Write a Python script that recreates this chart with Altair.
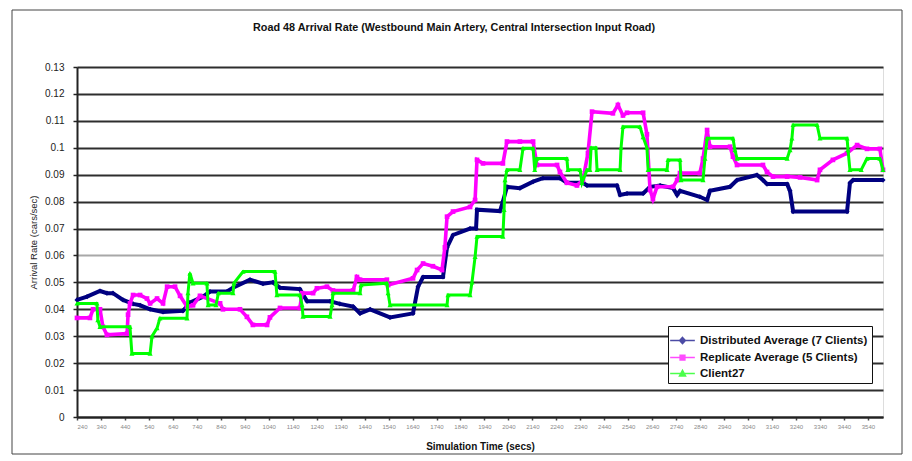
import altair as alt
import pandas as pd

# ---------------- data ----------------
series_names = ["Distributed Average (7 Clients)", "Replicate Average (5 Clients)", "Client27"]
chart_title = "Road 48 Arrival Rate  (Westbound Main Artery, Central Intersection Input Road)"

t_dist = [240, 282, 336, 365, 390, 432, 474, 503, 545, 599, 682, 711, 766, 795, 866, 891, 962,
          1016, 1058, 1087, 1170, 1200, 1296, 1337, 1392, 1421, 1463, 1546, 1642, 1663, 1684,
          1767, 1784, 1809, 1880, 1905, 1909, 2005, 2017, 2034, 2088, 2143, 2184, 2255, 2284,
          2351, 2368, 2493, 2506, 2535, 2602, 2631, 2673, 2727, 2744, 2756, 2839, 2869, 2881,
          2965, 2994, 3077, 3102, 3119, 3203, 3215, 3228, 3453, 3465, 3478, 3603]
v_dist = [0.0435, 0.0447, 0.0468, 0.046, 0.046, 0.0435, 0.042, 0.0415, 0.040, 0.039, 0.0394,
          0.0425, 0.0447, 0.0466, 0.0466, 0.048, 0.051, 0.0495, 0.050, 0.048, 0.0475, 0.043,
          0.043, 0.042, 0.041, 0.0385, 0.040, 0.037, 0.0385, 0.0484, 0.052, 0.052, 0.063,
          0.0676, 0.070, 0.070, 0.077, 0.0765, 0.080, 0.0855, 0.085, 0.0874, 0.0887, 0.0887,
          0.087, 0.087, 0.086, 0.086, 0.0825, 0.083, 0.083, 0.0855, 0.086, 0.085, 0.0825, 0.084,
          0.0818, 0.0806, 0.084, 0.0855, 0.088, 0.0899, 0.088, 0.0865, 0.0865, 0.084, 0.0763,
          0.0763, 0.0869, 0.088, 0.088]

t_rep = [240, 294, 307, 336, 348, 365, 449, 453, 461, 474, 503, 532, 545, 574, 599, 616, 649,
         670, 699, 724, 753, 837, 849, 920, 949, 974, 1033, 1045, 1087, 1170, 1179, 1225, 1241,
         1283, 1308, 1392, 1408, 1421, 1533, 1538, 1642, 1659, 1684, 1725, 1763, 1775, 1784,
         1809, 1880, 1901, 1909, 1934, 2017, 2034, 2088, 2143, 2159, 2243, 2255, 2284, 2326,
         2351, 2372, 2389, 2476, 2497, 2518, 2535, 2602, 2618, 2631, 2643, 2660, 2727, 2744,
         2756, 2839, 2852, 2869, 2881, 2965, 2977, 2994, 3102, 3119, 3144, 3203, 3257, 3328,
         3340, 3394, 3453, 3495, 3536, 3590, 3603]
v_rep = [0.0368, 0.0368, 0.040, 0.040, 0.0335, 0.0305, 0.031, 0.038, 0.0422, 0.0453, 0.0453,
         0.044, 0.0422, 0.044, 0.0422, 0.0484, 0.0484, 0.045, 0.041, 0.0415, 0.045, 0.0422,
         0.040, 0.040, 0.0372, 0.0342, 0.0342, 0.037, 0.0405, 0.0405, 0.046, 0.046, 0.0478,
         0.0484, 0.047, 0.047, 0.052, 0.051, 0.051, 0.049, 0.0515, 0.0546, 0.057, 0.056,
         0.0546, 0.063, 0.0744, 0.0763, 0.078, 0.0806, 0.0955, 0.0942, 0.0942, 0.1023,
         0.1023, 0.1023, 0.0936, 0.0936, 0.091, 0.087, 0.086, 0.088, 0.098, 0.1134, 0.1128,
         0.1159, 0.112, 0.113, 0.113, 0.105, 0.0843, 0.081, 0.0855, 0.0855, 0.088, 0.0906,
         0.0906, 0.096, 0.1066, 0.1004, 0.1004, 0.0967, 0.0936, 0.0936, 0.091, 0.0893, 0.0893,
         0.089, 0.088, 0.0918, 0.0955, 0.098, 0.101, 0.0996, 0.0996, 0.0918]

t_c27 = [240, 323, 327, 336, 461, 469, 545, 553, 574, 586, 699, 703, 711, 724, 782, 787, 820,
         830, 891, 895, 933, 1066, 1070, 1074, 1170, 1179, 1183, 1296, 1304, 1308, 1421, 1425,
         1533, 1538, 1546, 1784, 1788, 1880, 1888, 1901, 1909, 2017, 2022, 2026, 2034, 2088,
         2101, 2143, 2150, 2159, 2284, 2288, 2339, 2347, 2368, 2380, 2385, 2405, 2410, 2506,
         2510, 2518, 2589, 2602, 2618, 2623, 2702, 2706, 2756, 2760, 2852, 2860, 2869, 2977,
         2985, 2994, 3203, 3215, 3223, 3228, 3328, 3340, 3453, 3457, 3465, 3512, 3536, 3590,
         3603]
v_c27 = [0.0422, 0.0422, 0.036, 0.0335, 0.0335, 0.0236, 0.0236, 0.030, 0.033, 0.0367, 0.0367,
         0.046, 0.0534, 0.0497, 0.0497, 0.0416, 0.0416, 0.046, 0.046, 0.0497, 0.054, 0.054,
         0.0497, 0.0453, 0.0453, 0.0416, 0.0373, 0.0373, 0.0416, 0.046, 0.046, 0.049, 0.0497,
         0.046, 0.0416, 0.0416, 0.0453, 0.0453, 0.050, 0.0595, 0.067, 0.067, 0.077, 0.088,
         0.0918, 0.0918, 0.0998, 0.0998, 0.0918, 0.096, 0.096, 0.0918, 0.0918, 0.087, 0.0918,
         0.0918, 0.100, 0.100, 0.0918, 0.0918, 0.100, 0.1078, 0.1078, 0.104, 0.100, 0.0918,
         0.0918, 0.0955, 0.0955, 0.088, 0.088, 0.096, 0.1035, 0.1035, 0.0992, 0.096, 0.096,
         0.0992, 0.1035, 0.1085, 0.1085, 0.1035, 0.1035, 0.0992, 0.0918, 0.0918, 0.096, 0.096,
         0.0918]

x_ticks = list(range(240, 3541, 100))
y_ticks = [0, 0.01, 0.02, 0.03, 0.04, 0.05, 0.06, 0.07, 0.08, 0.09, 0.1, 0.11, 0.12, 0.13]

# ---------------- styling ----------------
FONT = "Liberation Sans"
colors = ["#000080", "#FF00FF", "#00FF00"]
marker_shapes = ["diamond", "square", "triangle-up"]
line_widths = [4, 3.6, 3]
marker_sizes = [26, 22, 26]
legend_paths = [
    "M-1.3,0H1.3M0,-0.32L0.3,0L0,0.32L-0.3,0Z",
    "M-1.3,0H1.3M-0.25,-0.25H0.25V0.25H-0.25Z",
    "M-1.3,0H1.3M0,-0.34L0.32,0.26H-0.32Z",
]

x_scale = alt.Scale(domain=[240, 3603], nice=False, zero=False)
y_scale = alt.Scale(domain=[0, 0.13], nice=False, zero=True)

x_axis = alt.Axis(
    values=x_ticks, format="d", title="Simulation Time (secs)", grid=False,
    labelFontSize=6, labelColor="#8a8a8a", labelFont=FONT, labelPadding=3,
    tickSize=3, tickColor="#444", tickWidth=1.5,
    domainColor="#222", domainWidth=2,
    titleFont=FONT, titleFontSize=10, titleFontWeight="bold", titleColor="#111",
    titlePadding=12, labelOverlap=False,
)
y_axis = alt.Axis(
    values=y_ticks, format=".2~f", title="Arrival Rate (cars/sec)",
    grid=True,
    gridColor={"condition": {"test": "datum.value === 0.06", "value": "#a8a8a8"}, "value": "#2e2e2e"},
    gridWidth=2,
    labelFontSize=10, labelColor="#222", labelFont=FONT, labelPadding=9,
    tickSize=4, tickColor="#222", tickWidth=1.5,
    domainColor="#222", domainWidth=2,
    titleFont=FONT, titleFontSize=9.5, titleFontWeight="normal", titleColor="#222",
    titlePadding=6,
)

frames = []
for name, ts, vs in zip(series_names, [t_dist, t_rep, t_c27], [v_dist, v_rep, v_c27]):
    frames.append(pd.DataFrame({"t": ts, "v": vs, "series": name}))
df = pd.concat(frames, ignore_index=True)

layers = []
for i, name in enumerate(series_names):
    base = alt.Chart(df).transform_filter(alt.datum.series == name)
    enc = dict(
        x=alt.X("t:Q", scale=x_scale, axis=x_axis),
        y=alt.Y("v:Q", scale=y_scale, axis=y_axis),
    )
    layers.append(base.mark_line(color=colors[i], strokeWidth=line_widths[i]).encode(**enc))
    layers.append(
        base.mark_point(filled=True, color=colors[i], shape=marker_shapes[i],
                        size=marker_sizes[i], opacity=1).encode(**enc)
    )

legend_def = alt.Legend(
    title=None, orient="none", legendX=591, legendY=259,
    fillColor="white", strokeColor="#111", padding=4,
    labelFont=FONT, labelFontSize=11.5, labelFontWeight="bold", labelColor="#111",
    labelLimit=400, labelOffset=7, symbolSize=361, symbolStrokeWidth=1.5,
    rowPadding=0,
)
legend_df = pd.DataFrame({"series": series_names})
legend_layer = alt.Chart(legend_df).mark_point(filled=True, strokeWidth=1.5).encode(
    color=alt.Color("series:N", scale=alt.Scale(domain=series_names, range=colors), legend=legend_def),
    stroke=alt.Stroke("series:N", scale=alt.Scale(domain=series_names, range=colors), legend=legend_def),
    shape=alt.Shape("series:N", scale=alt.Scale(domain=series_names, range=legend_paths), legend=legend_def),
).transform_filter("false")

one_row = pd.DataFrame({"k": [0]})
frame_layer = alt.Chart(one_row).mark_rect(
    fill=None, stroke="#444", strokeWidth=1
).encode(
    x=alt.value(-65), x2=alt.value(825), y=alt.value(-57), y2=alt.value(387)
)
title_layer = alt.Chart(one_row).mark_text(
    font=FONT, fontSize=10.8, fontWeight="bold", color="#111", align="center", baseline="middle"
).encode(
    x=alt.value(377), y=alt.value(-39), text=alt.value(chart_title)
)

chart = alt.layer(frame_layer, title_layer, *layers, legend_layer).properties(
    width=806, height=350,
    autosize=alt.AutoSizeParams(type="none"),
    padding={"left": 69, "top": 59, "right": 20, "bottom": 38},
).configure_view(
    stroke="#999", strokeWidth=1.5
).configure(background="white")

chart.save("out.html", embed_options={"renderer": "svg", "actions": False})
